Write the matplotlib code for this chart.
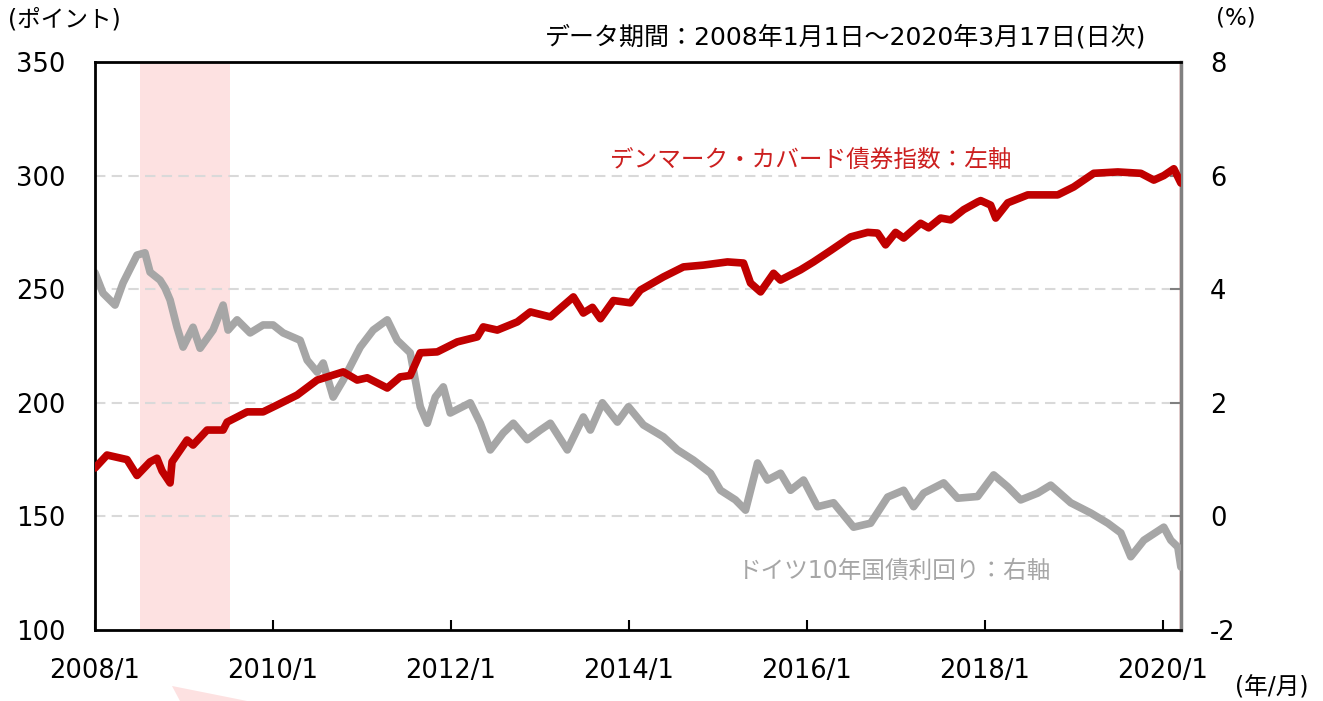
import matplotlib.pyplot as plt
from matplotlib.patches import Polygon

plt.rcParams['font.family'] = ['DejaVu Sans', 'Noto Sans CJK JP']
plt.rcParams['axes.unicode_minus'] = False

# デンマーク・カバード債券指数 (ポイント, 左軸)
dk_years = [2008.0, 2008.135, 2008.36, 2008.472, 2008.619, 2008.697, 2008.754, 2008.844,
            2008.866, 2009.035, 2009.102, 2009.26, 2009.44, 2009.485, 2009.71, 2009.89,
            2010.047, 2010.272, 2010.497, 2010.79, 2010.947, 2011.06, 2011.285, 2011.431,
            2011.543, 2011.656, 2011.847, 2012.072, 2012.297, 2012.364, 2012.522, 2012.747,
            2012.893, 2013.118, 2013.377, 2013.489, 2013.591, 2013.681, 2013.827, 2014.018,
            2014.13, 2014.389, 2014.614, 2014.839, 2015.109, 2015.289, 2015.368, 2015.481,
            2015.627, 2015.705, 2015.93, 2016.076, 2016.268, 2016.493, 2016.684, 2016.796,
            2016.886, 2016.999, 2017.089, 2017.28, 2017.37, 2017.505, 2017.618, 2017.764,
            2017.921, 2017.955, 2018.067, 2018.124, 2018.259, 2018.484, 2018.821, 2019.001,
            2019.226, 2019.496, 2019.755, 2019.901, 2020.013, 2020.126, 2020.205]
dk_index = [171.3, 177, 175, 168, 174, 175.6, 170, 164.7,
            174, 183.6, 181.4, 188, 188, 191.5, 196, 196,
            199, 203.4, 210, 213.6, 210, 211, 206.5, 211.4,
            212, 222, 222.4, 226.8, 229, 233.4, 232, 235.6,
            240, 237.8, 246.6, 239.5, 242, 237, 245, 244,
            249.6, 255.4, 259.8, 260.6, 262, 261.5, 252.7, 248.8,
            257, 254, 258.5, 262, 267, 273, 275, 274.7,
            269.5, 275, 272.5, 279, 277, 281.3, 280.5, 285,
            288.4, 289, 287, 281.3, 288, 291.5, 291.5, 295,
            301, 301.6, 301, 298, 300, 303, 296.7]

# ドイツ10年国債利回り (%, 右軸)
de_years = [2008.0, 2008.09, 2008.225, 2008.315, 2008.472, 2008.562, 2008.619, 2008.731,
            2008.787, 2008.844, 2008.922, 2008.99, 2009.102, 2009.181, 2009.327, 2009.44,
            2009.496, 2009.597, 2009.744, 2009.89, 2010.002, 2010.115, 2010.306, 2010.385,
            2010.497, 2010.565, 2010.677, 2010.79, 2010.981, 2011.127, 2011.285, 2011.397,
            2011.543, 2011.656, 2011.735, 2011.825, 2011.915, 2011.993, 2012.218, 2012.331,
            2012.443, 2012.589, 2012.702, 2012.859, 2013.006, 2013.118, 2013.309, 2013.489,
            2013.568, 2013.703, 2013.872, 2013.996, 2014.164, 2014.389, 2014.547, 2014.727,
            2014.918, 2015.03, 2015.199, 2015.312, 2015.447, 2015.559, 2015.705, 2015.818,
            2015.964, 2016.121, 2016.301, 2016.526, 2016.718, 2016.909, 2017.089, 2017.201,
            2017.314, 2017.539, 2017.696, 2017.921, 2018.101, 2018.259, 2018.405, 2018.596,
            2018.742, 2018.967, 2019.192, 2019.384, 2019.53, 2019.642, 2019.789, 2020.013,
            2020.092, 2020.171, 2020.205]
de_yield = [4.29, 3.93, 3.72, 4.11, 4.6, 4.64, 4.30, 4.16,
            4.02, 3.81, 3.33, 2.98, 3.33, 2.96, 3.28, 3.72,
            3.28, 3.46, 3.23, 3.37, 3.37, 3.23, 3.1, 2.75,
            2.54, 2.70, 2.10, 2.40, 2.98, 3.28, 3.46, 3.1,
            2.88, 1.93, 1.64, 2.10, 2.28, 1.82, 2.0, 1.64,
            1.17, 1.47, 1.64, 1.35, 1.52, 1.64, 1.17, 1.75,
            1.52, 2.0, 1.66, 1.93, 1.61, 1.40, 1.17, 0.99,
            0.76, 0.46, 0.29, 0.11, 0.94, 0.64, 0.76, 0.46,
            0.64, 0.17, 0.24, -0.19, -0.12, 0.34, 0.46, 0.17,
            0.41, 0.59, 0.32, 0.35, 0.73, 0.52, 0.29, 0.41,
            0.55, 0.24, 0.06, -0.12, -0.29, -0.71, -0.42, -0.19,
            -0.42, -0.54, -0.89]

# 景気後退期 (シャドー)
recessions = [(2008.51, 2009.52), (2020.185, 2020.205)]

tick_years = [2008, 2010, 2012, 2014, 2016, 2018, 2020]
tick_labels = [f"{y}/1" for y in tick_years]

RED = '#C00000'
GRAY = '#A6A6A6'
PINK = '#FDE1E1'

fig = plt.figure(figsize=(13.23, 7.01), dpi=100)
ax = fig.add_axes([0.0718, 0.1013, 0.8209, 0.8103])
ax2 = ax.twinx()
ax.set_zorder(ax2.get_zorder() + 1)
ax.patch.set_visible(False)

for start, end in recessions:
    ax2.axvspan(start, end, color=PINK, lw=0, zorder=0)

ax.set_xlim(2008.0, 2020.207)
ax.set_ylim(100, 350)
ax2.set_ylim(-2, 8)

for v in [150, 200, 250, 300]:
    ax2.axhline((v - 100) / 25 - 2, color='#D9D9D9', lw=1.5, ls=(0, (5, 3)), zorder=1)

ax2.plot(de_years, de_yield, color=GRAY, lw=5.5, solid_joinstyle='round',
         solid_capstyle='round', zorder=3)
ax.plot(dk_years, dk_index, color=RED, lw=5.5, solid_joinstyle='round',
        solid_capstyle='round', zorder=4)

ax.set_xticks(tick_years)
ax.set_xticklabels(tick_labels)
ax.set_yticks([100, 150, 200, 250, 300, 350])
ax2.set_yticks([-2, 0, 2, 4, 6, 8])

ax.tick_params(axis='x', direction='in', length=7, width=1.5, pad=20, labelsize=18.5, color='black')
ax.tick_params(axis='y', length=0, pad=21, labelsize=18.5)
ax2.tick_params(axis='y', direction='in', length=8, width=1.5, pad=21, labelsize=18.5,
                color='#808080')

for name in ['left', 'bottom', 'top']:
    ax.spines[name].set_color('black')
    ax.spines[name].set_linewidth(2)
ax.spines['right'].set_visible(False)
for name in ['left', 'bottom', 'top']:
    ax2.spines[name].set_visible(False)
ax2.spines['right'].set_color('#808080')
ax2.spines['right'].set_linewidth(2.5)

ax.text(2013.79, 306.9, "デンマーク・カバード債券指数：左軸", color='#CC1F1F', fontsize=17,
        va='center', ha='left')
ax2.text(2015.23, -0.95, "ドイツ10年国債利回り：右軸", color=GRAY, fontsize=17,
         va='center', ha='left')

fig.text(8 / 1323, 1 - 20 / 701, "(ポイント)", fontsize=17, va='center', ha='left')
fig.text(1236 / 1323, 1 - 18 / 701, "(%)", fontsize=16.5, va='center', ha='center')
fig.text(1146 / 1323, 1 - 37 / 701, "データ期間：2008年1月1日～2020年3月17日(日次)",
         fontsize=18, va='center', ha='right')
fig.text(1272 / 1323, 1 - 688 / 701, "(年/月)", fontsize=17, va='center', ha='center')

# 下部の薄いピンクの三角形
tri = Polygon([(172 / 1323, 1 - 686 / 701), (247 / 1323, 0.0), (180 / 1323, 0.0)],
              closed=True, transform=fig.transFigure, color=PINK, lw=0)
fig.patches.append(tri)

fig.savefig('out.png', dpi=100)
